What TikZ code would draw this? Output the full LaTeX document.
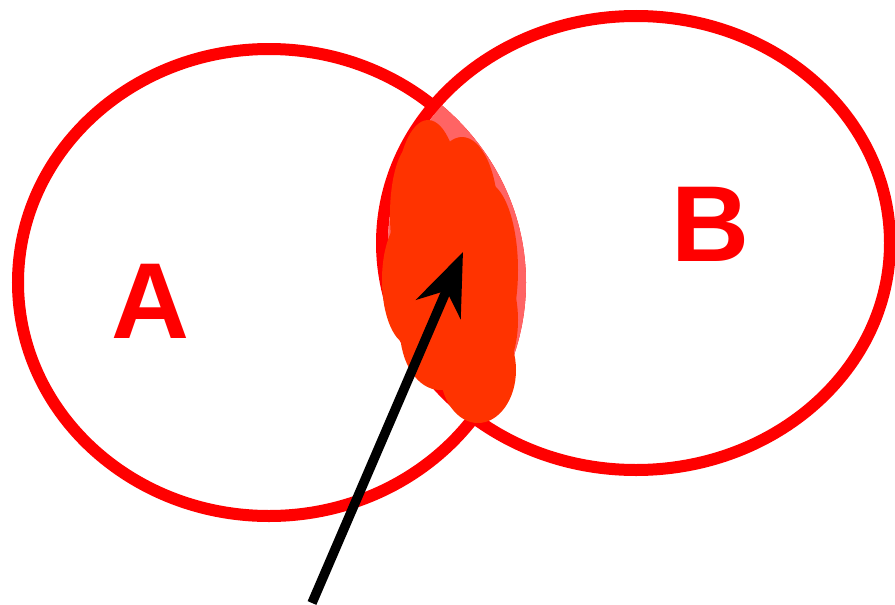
\documentclass[tikz,border=0pt]{standalone}
\usepackage{fontspec}
\setmainfont{Liberation Sans}
\usetikzlibrary{arrows.meta}
\definecolor{ringred}{RGB}{255,0,0}
\definecolor{lightred}{RGB}{255,100,100}
\definecolor{blob}{RGB}{255,51,0}
\tikzset{
  ring/.style={draw=ringred, line width=12pt},
  blobpart/.style={fill=blob, draw=none},
  letter/.style={text=ringred, font=\fontsize{108}{108}\selectfont\bfseries, inner sep=0pt},
  pointer/.style={draw=black, line width=9.5pt, -{Stealth[length=62pt,width=48pt,inset=20pt]}}
}
\begin{document}
\begin{tikzpicture}[x=1pt,y=-1pt]
\useasboundingbox (0,0) rectangle (895,605);
\draw[ring] (269,282.5) ellipse [x radius=251, y radius=233.5];
\draw[ring] (636,243) ellipse [x radius=254, y radius=227];
% intersection light fill, covering A's arc inside B
\begin{scope}
  \clip (636,243) ellipse [x radius=248, y radius=221];
  \fill[lightred] (269,282.5) ellipse [x radius=257, y radius=239.5];
\end{scope}
% orange blob
\fill[blobpart] (428,200) ellipse [x radius=32, y radius=80];
\fill[blobpart] (462,215) ellipse [x radius=36, y radius=78];
\fill[blobpart] (485,270) ellipse [x radius=33, y radius=88];
\fill[blobpart] (410,280) ellipse [x radius=28, y radius=65];
\fill[blobpart] (412,215) ellipse [x radius=22, y radius=70];
\fill[blobpart] (440,330) ellipse [x radius=40, y radius=60];
\fill[blobpart] (478,370) ellipse [x radius=38, y radius=53];
\fill[blobpart] (490,320) ellipse [x radius=28, y radius=60];
\fill[blobpart] (455,280) ellipse [x radius=40, y radius=80];
% arrow
\coordinate (tail) at (312,603);
\coordinate (tip) at (463,252);
\draw[pointer] (tail) -- (tip);
% labels
\node[letter] (A) at (150,301) {A};
\node[letter] (B) at (710,224) {B};
\end{tikzpicture}
\end{document}
